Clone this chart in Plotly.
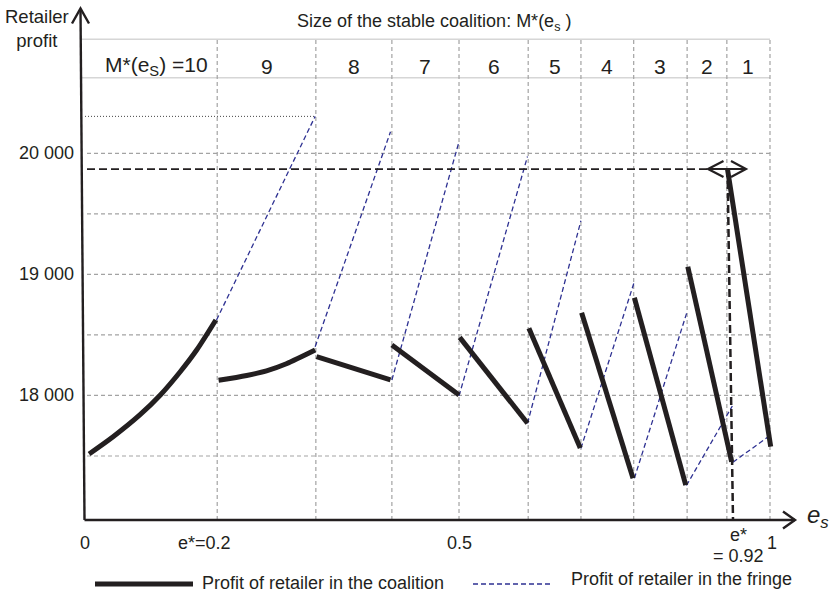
import plotly.graph_objects as go

# ---------------- data (schematic e_s scale 0..1, profit values) ----------------
coalition_x = [
    [0.006, 0.041, 0.080, 0.110, 0.139, 0.163, 0.191],
    [0.195, 0.236, 0.265, 0.294, 0.336],
    [0.338, 0.446],
    [0.448, 0.546],
    [0.547, 0.646],
    [0.648, 0.723],
    [0.725, 0.800],
    [0.802, 0.877],
    [0.880, 0.944],
    [0.938, 1.001],
]
coalition_y = [
    [17517, 17659, 17839, 18004, 18196, 18375, 18623],
    [18125, 18165, 18203, 18262, 18375],
    [18320, 18128],
    [18417, 18004],
    [18480, 17770],
    [18555, 17566],
    [18684, 17316],
    [18807, 17260],
    [19063, 17453],
    [19868, 17577],
]
fringe_x = [
    [0.192, 0.336],
    [0.336, 0.446],
    [0.448, 0.546],
    [0.546, 0.646],
    [0.646, 0.724],
    [0.724, 0.802],
    [0.802, 0.879],
    [0.878, 0.945],
    [0.946, 1.000],
]
fringe_y = [
    [18623, 20305],
    [18403, 20178],
    [18128, 20096],
    [17996, 19974],
    [17770, 19443],
    [17564, 18940],
    [17316, 18692],
    [17256, 17913],
    [17449, 17669],
]
boundaries = [0.193, 0.337, 0.448, 0.546, 0.647, 0.724, 0.801, 0.879, 0.937, 1.0]
size_labels = ["M*(e<sub>S</sub>) =10", "9", "8", "7", "6", "5", "4", "3", "2", "1"]
grid_y = [17500, 18000, 18500, 19000, 19500, 20000]
ytick_vals = [18000, 19000, 20000]
ytick_text = ["18 000", "19 000", "20 000"]
xtick_vals = [0.0, 0.175, 0.546, 1.003]
xtick_text = ["0", "e*=0.2", "0.5", "1"]
e_star_x = 0.942
e_star_profit = 19870
max_fringe_profit = 20305

# ---------------- frame mapping (layout only) ----------------
W, H = 835, 594
def xp(px):
    return (px - 85) / 685.0
def yp(py):
    return 17500 + (456 - py) * 2500 / 302.7

INK = "#231f20"
BLUE = "#2e3192"
GRID = "#a3a3a3"
FONT = "Liberation Sans, Arial, sans-serif"

def joined(xs, ys):
    X, Y = [], []
    for a, b in zip(xs, ys):
        X += a + [None]
        Y += b + [None]
    return X, Y

cx, cy = joined(coalition_x, coalition_y)
fx, fy = joined(fringe_x, fringe_y)

fig = go.Figure()
fig.add_trace(go.Scatter(x=fx, y=fy, mode="lines", name="Profit of retailer in the fringe",
                         line=dict(color=BLUE, width=1.3, dash="5px,3px"), showlegend=False))
fig.add_trace(go.Scatter(x=cx, y=cy, mode="lines", name="Profit of retailer in the coalition",
                         line=dict(color=INK, width=5, shape="spline", smoothing=0.8),
                         showlegend=False))

shapes = []
top_tbl = yp(39.3)
mid_tbl = yp(77.7)
axis_y = yp(520)
# table lines
for yy in (top_tbl, mid_tbl):
    shapes.append(dict(type="line", xref="x", yref="y", x0=xp(82), x1=1.0, y0=yy, y1=yy,
                       line=dict(color="#d6d6d6", width=1.5), layer="below"))
# vertical grid
for b in boundaries:
    shapes.append(dict(type="line", xref="x", yref="y", x0=b, x1=b, y0=axis_y, y1=top_tbl,
                       line=dict(color=GRID, width=1.2, dash="4px,3px"), layer="below"))
# horizontal grid
for g in grid_y:
    shapes.append(dict(type="line", xref="x", yref="y", x0=xp(87), x1=1.0, y0=g, y1=g,
                       line=dict(color=GRID, width=1.2, dash="4px,3px"), layer="below"))
# dotted max fringe
shapes.append(dict(type="line", xref="x", yref="y", x0=xp(85), x1=fringe_x[0][1],
                   y0=max_fringe_profit, y1=max_fringe_profit,
                   line=dict(color="#444", width=1, dash="1px,2px"), layer="below"))
# e* guides
shapes.append(dict(type="line", xref="x", yref="y", x0=xp(87), x1=xp(708),
                   y0=e_star_profit, y1=e_star_profit,
                   line=dict(color=INK, width=1.8, dash="8px,4px")))
shapes.append(dict(type="line", xref="x", yref="y", x0=e_star_x - 0.004, x1=e_star_x + 0.004,
                   y0=e_star_profit, y1=axis_y,
                   line=dict(color=INK, width=2.5, dash="8px,4px")))
# double arrow at e*
ax0, ax1 = xp(708), xp(746)
wl, wr = xp(723.5), xp(731)
hy = 8 * 2500 / 302.7
shapes.append(dict(type="path", xref="x", yref="y",
                   path=f"M {wl},{e_star_profit+hy} L {ax0},{e_star_profit} L {wl},{e_star_profit-hy}",
                   line=dict(color=INK, width=2.2)))
shapes.append(dict(type="path", xref="x", yref="y",
                   path=f"M {wr},{e_star_profit+hy} L {ax1},{e_star_profit} L {wr},{e_star_profit-hy}",
                   line=dict(color=INK, width=2.2)))
shapes.append(dict(type="line", xref="x", yref="y", x0=ax0, x1=ax1, y0=e_star_profit, y1=e_star_profit,
                   line=dict(color=INK, width=2)))
# axes
shapes.append(dict(type="line", xref="x", yref="y", x0=xp(84.5), x1=xp(795), y0=axis_y, y1=axis_y,
                   line=dict(color=INK, width=2.4)))
shapes.append(dict(type="path", xref="x", yref="y",
                   path=f"M {xp(783)},{yp(511.5)} L {xp(795)},{axis_y} L {xp(783)},{yp(528.5)}",
                   line=dict(color=INK, width=2.4)))
shapes.append(dict(type="line", xref="x", yref="y", x0=xp(84.5), x1=xp(80.5), y0=axis_y, y1=yp(9),
                   line=dict(color=INK, width=2.4)))
shapes.append(dict(type="path", xref="x", yref="y",
                   path=f"M {xp(72)},{yp(23.5)} L {xp(80.5)},{yp(8.5)} L {xp(89)},{yp(23.5)}",
                   line=dict(color=INK, width=2.4)))
# legend samples
shapes.append(dict(type="line", xref="x", yref="y", x0=xp(95), x1=xp(193), y0=yp(584), y1=yp(584),
                   line=dict(color=INK, width=5)))
shapes.append(dict(type="line", xref="x", yref="y", x0=xp(473), x1=xp(553), y0=yp(584), y1=yp(584),
                   line=dict(color=BLUE, width=1.3, dash="5px,3px")))

ann = []
def txt(x, y, t, size=18, xa="center", ya="middle", italic=False):
    ann.append(dict(x=x, y=y, xref="x", yref="y", text=t, showarrow=False, xanchor=xa, yanchor=ya,
                    font=dict(family=FONT, size=size, color=INK, style="italic" if italic else "normal")))

txt(xp(36.5), yp(28), "Retailer<br>profit", size=18.5)
txt(xp(434), yp(22), "Size of the stable coalition: M*(e<sub>s</sub> )")
lefts = [xp(95)] + boundaries[:-1]
for i, lab in enumerate(size_labels):
    cxp = (lefts[i] + boundaries[i]) / 2
    if i == 0:
        cxp = xp(156)
    txt(cxp, yp(66), lab, size=21)
for v, t in zip(ytick_vals, ytick_text):
    txt(xp(76), v, t, xa="right")
for v, t in zip(xtick_vals, xtick_text):
    txt(v, yp(543), t)
txt(xp(738), yp(535), "e*")
txt(xp(738), yp(556), "= 0.92")
txt(xp(818), yp(516), "e<sub>s</sub>", size=24, italic=True)
txt(xp(200), yp(583), "Profit of retailer in the coalition", xa="left")
txt(xp(569), yp(579), "Profit of retailer in the fringe", xa="left")

fig.update_layout(
    width=W, height=H, autosize=False,
    margin=dict(l=0, r=0, t=0, b=0),
    paper_bgcolor="white", plot_bgcolor="white",
    xaxis=dict(range=[xp(0), xp(W)], visible=False, fixedrange=True),
    yaxis=dict(range=[yp(H), yp(0)], visible=False, fixedrange=True),
    shapes=shapes, annotations=ann, showlegend=False,
)
fig.write_html("out.html", config={"displayModeBar": False},
               post_script="document.body.style.margin='0';document.body.style.overflow='hidden';")
